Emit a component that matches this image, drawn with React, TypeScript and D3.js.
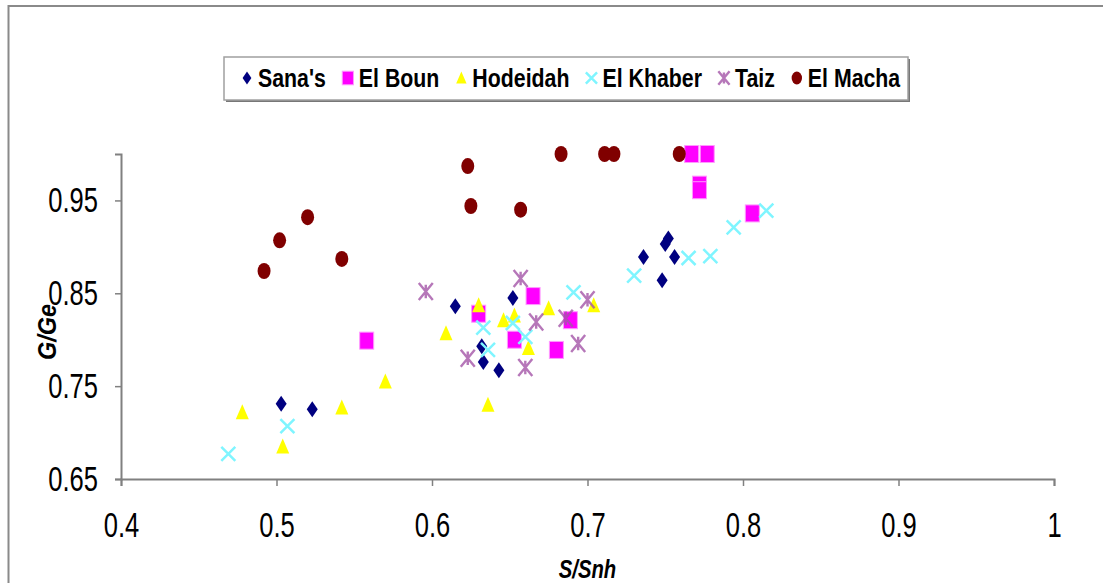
import React, { useRef, useEffect } from 'react';
import * as d3 from 'd3';

// series values: [S/Snh, G/Ge]
const sanas: [number, number][] = [
  [0.503, 0.731], [0.523, 0.725], [0.615, 0.836], [0.652, 0.845], [0.632, 0.793], [0.633, 0.776],
  [0.643, 0.767], [0.736, 0.889], [0.756, 0.889], [0.748, 0.864], [0.750, 0.903], [0.752, 0.909],
];
const elBoun: [number, number][] = [
  [0.558, 0.799], [0.630, 0.828], [0.665, 0.847], [0.653, 0.800], [0.689, 0.821], [0.680, 0.789],
  [0.767, 1.0], [0.777, 1.0], [0.772, 0.967], [0.772, 0.961], [0.806, 0.936],
];
const hodeidah: [number, number][] = [
  [0.478, 0.722], [0.504, 0.685], [0.542, 0.727], [0.570, 0.755], [0.609, 0.807], [0.630, 0.837],
  [0.636, 0.730], [0.646, 0.821], [0.653, 0.826], [0.662, 0.791], [0.675, 0.834], [0.704, 0.837],
];
const elKhaber: [number, number][] = [
  [0.469, 0.677], [0.507, 0.707], [0.633, 0.813], [0.636, 0.789], [0.652, 0.818], [0.660, 0.803],
  [0.691, 0.851], [0.730, 0.869], [0.765, 0.888], [0.779, 0.890], [0.794, 0.921], [0.815, 0.939],
];
const taiz: [number, number][] = [
  [0.596, 0.852], [0.623, 0.780], [0.657, 0.866], [0.660, 0.770], [0.667, 0.819], [0.686, 0.823],
  [0.700, 0.843], [0.694, 0.796],
];
const elMacha: [number, number][] = [
  [0.492, 0.874], [0.502, 0.907], [0.520, 0.932], [0.542, 0.887], [0.623, 0.987], [0.625, 0.944],
  [0.657, 0.940], [0.683, 1.0], [0.711, 1.0], [0.717, 1.0], [0.759, 1.0],
];

const seriesNames = ["Sana's", 'El Boun', 'Hodeidah', 'El Khaber', 'Taiz', 'El Macha'];
const xTicks = [0.4, 0.5, 0.6, 0.7, 0.8, 0.9, 1];
const yTicks = [0.65, 0.75, 0.85, 0.95];

const series = [
  { name: seriesNames[0], data: sanas, shape: 'diamond', color: '#000080' },
  { name: seriesNames[1], data: elBoun, shape: 'square', color: '#ff00ff' },
  { name: seriesNames[2], data: hodeidah, shape: 'triangle', color: '#ffff00' },
  { name: seriesNames[3], data: elKhaber, shape: 'x', color: '#7ff5ff' },
  { name: seriesNames[4], data: taiz, shape: 'star', color: '#a455a8' },
  { name: seriesNames[5], data: elMacha, shape: 'circle', color: '#800000' },
];

const FONT = 'Liberation Sans, Arial, sans-serif';

const drawMarker = (g: any, shape: string, color: string, s = 1) => {
  if (shape === 'diamond') {
    g.append('path').attr('d', `M0,${-8 * s}L${5.5 * s},0L0,${8 * s}L${-5.5 * s},0Z`).attr('fill', color);
  } else if (shape === 'square') {
    g.append('rect').attr('x', -7 * s).attr('y', -8.5 * s).attr('width', 14 * s).attr('height', 17 * s)
      .attr('fill', color).attr('stroke', '#ff99ff').attr('stroke-width', 1);
  } else if (shape === 'triangle') {
    g.append('path').attr('d', `M0,${-8 * s}L${6.5 * s},${7 * s}L${-6.5 * s},${7 * s}Z`).attr('fill', color);
  } else if (shape === 'x') {
    const r = 7 * s;
    g.append('path').attr('d', `M${-r},${-r}L${r},${r}M${-r},${r}L${r},${-r}`)
      .attr('stroke', color).attr('stroke-width', 2.5).attr('fill', 'none');
  } else if (shape === 'star') {
    const r = 7 * s, h = 8.5 * s;
    g.append('path').attr('d', `M${-r},${-h}L${r},${h}M${-r},${h}L${r},${-h}M0,${-h * 0.8}L0,${h * 0.8}`)
      .attr('stroke', color).attr('stroke-width', 2.4).attr('fill', 'none').attr('opacity', 0.8);
  } else {
    g.append('ellipse').attr('rx', 6.5 * s).attr('ry', 8 * s).attr('fill', color);
  }
};

const App = () => {
  const svgRef = useRef<SVGSVGElement>(null);

  useEffect(() => {
    const width = 1103;
    const height = 583;
    const margin = { top: 154, right: 49, bottom: 104, left: 121 };

    const svg = d3.select(svgRef.current);
    svg.selectAll('*').remove();

    // chart frame (runs off the right and bottom edges)
    svg.append('rect').attr('x', 8.5).attr('y', 6).attr('width', 1200).attr('height', 700)
      .attr('fill', '#fff').attr('stroke', '#8a8a8a').attr('stroke-width', 2);

    const x = d3.scaleLinear().domain([0.4, 1]).range([margin.left, width - margin.right]);
    const y = d3.scaleLinear().domain([0.65, 1]).range([height - margin.bottom, margin.top]);

    // x axis
    const xAxis = svg.append('g').attr('transform', `translate(0,${y(0.65)})`)
      .call(d3.axisBottom(x).tickValues(xTicks).tickSize(7).tickPadding(26).tickFormat((d: any) => String(d)));
    xAxis.select('.domain').attr('stroke', '#808080').attr('stroke-width', 2);
    xAxis.selectAll('.tick line').attr('stroke', '#808080').attr('stroke-width', 1.5);
    xAxis.selectAll('.tick text')
      .attr('font-family', FONT).attr('font-size', 35).attr('fill', '#000')
      .attr('transform', 'scale(0.73,1)');

    // y axis
    const yAxis = svg.append('g').attr('transform', `translate(${x(0.4)},0)`)
      .call(d3.axisLeft(y).tickValues(yTicks).tickSize(6).tickPadding(10).tickFormat(d3.format('.2f')));
    yAxis.select('.domain').attr('stroke', '#808080').attr('stroke-width', 2);
    yAxis.selectAll('.tick line').attr('stroke', '#808080').attr('stroke-width', 1.5);
    yAxis.selectAll('.tick text')
      .attr('font-family', FONT).attr('font-size', 35).attr('fill', '#000')
      .attr('x', null).attr('transform', 'translate(-23,0) scale(0.73,1)');

    // axis titles
    svg.append('text').attr('transform', `translate(${(x(0.4) + x(1)) / 2},578) scale(0.78,1)`)
      .attr('text-anchor', 'middle').attr('font-family', FONT)
      .attr('font-size', 26).attr('font-weight', 'bold').attr('font-style', 'italic').text('S/Snh');
    svg.append('text').attr('transform', `translate(56,332) rotate(-90) scale(0.9,1)`)
      .attr('text-anchor', 'middle').attr('font-family', FONT)
      .attr('font-size', 26).attr('font-weight', 'bold').attr('font-style', 'italic').text('G/Ge');

    // points
    series.forEach(s => {
      svg.append('g').selectAll('g').data(s.data).join('g')
        .attr('transform', d => `translate(${x(d[0])},${y(d[1])})`)
        .each(function (this: any) { drawMarker(d3.select(this), s.shape, s.color); });
    });

    // legend
    const lg = svg.append('g');
    const box = { x: 224, y: 57, w: 684, h: 43 };
    lg.append('rect').attr('x', box.x + 2).attr('y', box.y + 2).attr('width', box.w).attr('height', box.h).attr('fill', '#777');
    lg.append('rect').attr('x', box.x).attr('y', box.y).attr('width', box.w).attr('height', box.h)
      .attr('fill', '#fff').attr('stroke', '#a0a0a0').attr('stroke-width', 1.5);
    let cx = box.x + 23;
    series.forEach(s => {
      const item = lg.append('g').attr('transform', `translate(${cx},${box.y + 21})`);
      drawMarker(item, s.shape, s.color, 0.8);
      const t = item.append('text').attr('transform', 'translate(11,9) scale(0.82,1)')
        .attr('font-family', FONT).attr('font-size', 26)
        .attr('font-weight', 'bold').attr('fill', '#000').text(s.name);
      const w = (t.node() as SVGTextElement).getComputedTextLength() * 0.82;
      cx += 11 + w + 22;
    });
  }, []);

  return (
    <svg ref={svgRef} width={1103} height={583}
      style={{ position: 'absolute', left: 0, top: 0, background: '#fff' }} />
  );
};

export default App;
